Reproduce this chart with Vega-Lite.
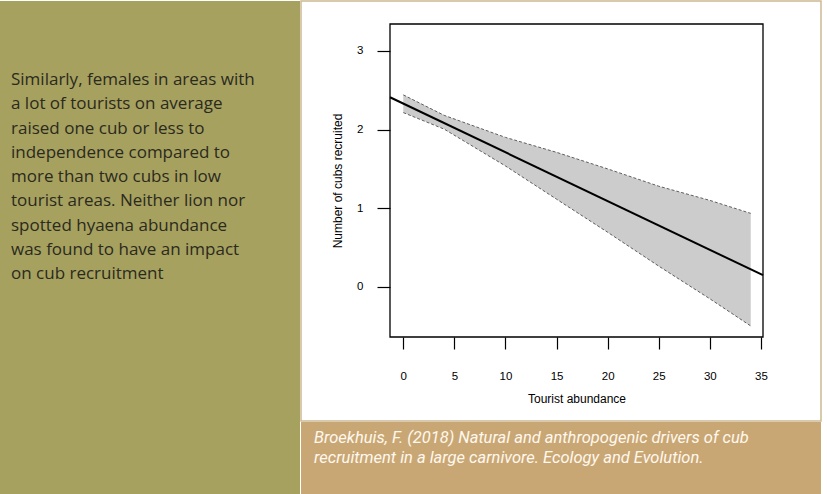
{
  "$schema": "https://vega.github.io/schema/vega-lite/v6.json",
  "padding": 0,
  "autosize": {"type": "pad"},
  "background": "white",
  "config": {"view": {"stroke": null}},
  "datasets": {
    "paragraph": [
      {"line": 1, "text": "Similarly, females in areas with"},
      {"line": 2, "text": "a lot of tourists on average"},
      {"line": 3, "text": "raised one cub or less to"},
      {"line": 4, "text": "independence compared to"},
      {"line": 5, "text": "more than two cubs in low"},
      {"line": 6, "text": "tourist areas. Neither lion nor"},
      {"line": 7, "text": "spotted hyaena abundance"},
      {"line": 8, "text": "was found to have an impact"},
      {"line": 9, "text": "on cub recruitment"}
    ],
    "band": [
      {"x": 0, "lo": 2.215, "hi": 2.44},
      {"x": 4, "lo": 2.005, "hi": 2.18},
      {"x": 10, "lo": 1.537, "hi": 1.9},
      {"x": 15, "lo": 1.115, "hi": 1.71},
      {"x": 20, "lo": 0.695, "hi": 1.5},
      {"x": 25, "lo": 0.265, "hi": 1.28},
      {"x": 30, "lo": -0.15, "hi": 1.1},
      {"x": 34, "lo": -0.495, "hi": 0.935}
    ],
    "fit": [
      {"x": -1.3, "y": 2.41},
      {"x": 35.2, "y": 0.15}
    ],
    "frame": [
      {"x0": -1.3, "x1": 35.2, "y0": -0.635, "y1": 3.34}
    ],
    "caption": [
      {"line": 1, "text": "Broekhuis, F. (2018) Natural and anthropogenic drivers of cub"},
      {"line": 2, "text": "recruitment in a large carnivore. Ecology and Evolution."}
    ]
  },
  "spacing": 0,
  "hconcat": [
    {
      "width": 300,
      "height": 494,
      "view": {"fill": "#A6A15F", "stroke": null},
      "data": {"name": "paragraph"},
      "mark": {"type": "text", "align": "left", "baseline": "middle", "font": "Open Sans", "fontSize": 17, "color": "#2B2A1E"},
      "encoding": {
        "y": {"field": "line", "type": "quantitative", "scale": {"domain": [-2.258, 18.11], "reverse": true, "nice": false, "zero": false}, "axis": null},
        "x": {"datum": 0, "type": "quantitative", "scale": {"domain": [-11, 289], "nice": false, "zero": false}, "axis": null},
        "text": {"field": "text"}
      }
    },
    {
      "spacing": 0,
      "vconcat": [
        {
          "width": 520,
          "height": 420,
          "view": {"fill": "white", "stroke": "#CDB993", "strokeWidth": 1.5},
          "layer": [
            {
              "data": {"name": "band"},
              "mark": {"type": "area", "color": "#CCCCCC", "opacity": 1},
              "encoding": {
                "x": {"field": "x", "type": "quantitative", "title": "Tourist abundance",
                  "scale": {"domain": [-1.3, 35.2], "range": [89, 462], "nice": false, "zero": false},
                  "axis": {"orient": "bottom", "offset": -84, "values": [0, 5, 10, 15, 20, 25, 30, 35], "format": "d", "domain": false, "grid": false,
                    "tickSize": 12, "tickColor": "black", "tickWidth": 1.2,
                    "labelPadding": 21, "labelFont": "Liberation Sans", "labelFontSize": 11.5, "labelColor": "black",
                    "titleFont": "Liberation Sans", "titleFontSize": 12, "titleFontWeight": "normal", "titleColor": "black", "titlePadding": 12}},
                "y": {"field": "lo", "type": "quantitative", "title": "Number of cubs recruited",
                  "scale": {"domain": [-0.635, 3.34], "range": [336, 23], "nice": false, "zero": false},
                  "axis": {"orient": "left", "offset": -89, "values": [0, 1, 2, 3], "format": "d", "domain": false, "grid": false,
                    "tickSize": 13, "tickColor": "black", "tickWidth": 1.2,
                    "labelPadding": 14, "labelAngle": 0, "labelAlign": "right", "labelBaseline": "middle",
                    "labelFont": "Liberation Sans", "labelFontSize": 11.5, "labelColor": "black",
                    "titleFont": "Liberation Sans", "titleFontSize": 12, "titleFontWeight": "normal", "titleColor": "black", "titlePadding": 12}},
                "y2": {"field": "hi"}
              }
            },
            {
              "data": {"name": "band"},
              "mark": {"type": "line", "color": "#5E5E5E", "strokeWidth": 1, "strokeDash": [3, 2]},
              "encoding": {
                "x": {"field": "x", "type": "quantitative", "title": "Tourist abundance"},
                "y": {"field": "hi", "type": "quantitative", "title": "Number of cubs recruited"}
              }
            },
            {
              "data": {"name": "band"},
              "mark": {"type": "line", "color": "#5E5E5E", "strokeWidth": 1, "strokeDash": [3, 2]},
              "encoding": {
                "x": {"field": "x", "type": "quantitative", "title": "Tourist abundance"},
                "y": {"field": "lo", "type": "quantitative", "title": "Number of cubs recruited"}
              }
            },
            {
              "data": {"name": "fit"},
              "mark": {"type": "line", "color": "black", "strokeWidth": 2},
              "encoding": {
                "x": {"field": "x", "type": "quantitative", "title": "Tourist abundance"},
                "y": {"field": "y", "type": "quantitative", "title": "Number of cubs recruited"}
              }
            },
            {
              "data": {"name": "frame"},
              "mark": {"type": "rect", "filled": false, "stroke": "black", "strokeWidth": 1.3},
              "encoding": {
                "x": {"field": "x0", "type": "quantitative", "title": "Tourist abundance"},
                "x2": {"field": "x1"},
                "y": {"field": "y0", "type": "quantitative", "title": "Number of cubs recruited"},
                "y2": {"field": "y1"}
              }
            }
          ]
        },
        {
          "width": 520,
          "height": 74,
          "view": {"fill": "#C9A774", "stroke": null},
          "data": {"name": "caption"},
          "mark": {"type": "text", "align": "left", "baseline": "middle", "font": "Roboto", "fontStyle": "italic", "fontSize": 16.5, "color": "#FFF8EE"},
          "encoding": {
            "y": {"field": "line", "type": "quantitative", "scale": {"domain": [0.1795, 3.974], "reverse": true, "nice": false, "zero": false}, "axis": null},
            "x": {"datum": 0, "type": "quantitative", "scale": {"domain": [-13, 507], "nice": false, "zero": false}, "axis": null},
            "text": {"field": "text"}
          }
        }
      ]
    }
  ]
}
